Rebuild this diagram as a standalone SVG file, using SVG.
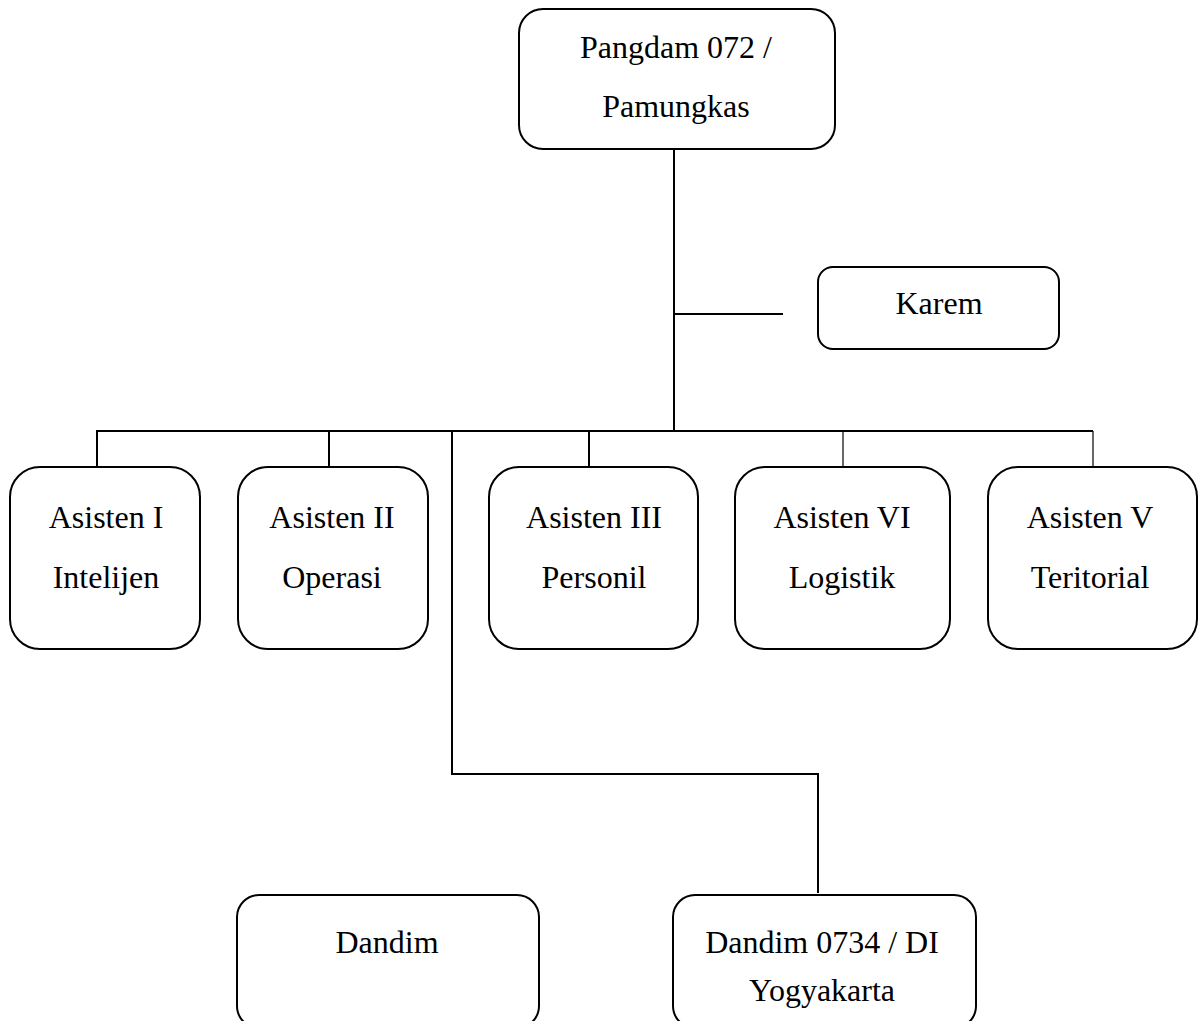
<svg xmlns="http://www.w3.org/2000/svg" width="1199" height="1021" viewBox="0 0 1199 1021">
<style>
.box{fill:#fff;stroke:#000;stroke-width:2}
.t{font-family:"Liberation Serif","Times New Roman",serif;font-size:32px;fill:#000;text-anchor:middle}
.c{fill:none;stroke:#000;stroke-width:2}
.thin{fill:none;stroke:#000;stroke-width:1.2}
</style>
<rect width="1199" height="1021" fill="#fff"/>
<g id="connectors">
<path class="c" d="M674 149V431"/>
<path class="c" d="M674 314H783"/>
<path class="c" d="M97 466V431H1093"/>
<path class="c" d="M329 431V466"/>
<path class="c" d="M589 431V466"/>
<path class="thin" d="M843 431V466"/>
<path class="thin" d="M1093 431V466"/>
<path class="c" d="M452 431V774H818V893"/>
</g>
<g id="pangdam">
<rect class="box" x="519" y="9" width="316" height="140" rx="24"/>
<text class="t" x="676" y="58">Pangdam 072 /</text>
<text class="t" x="676" y="117">Pamungkas</text>
</g>
<g id="karem">
<rect class="box" x="818" y="267" width="241" height="82" rx="15"/>
<text class="t" x="939" y="314">Karem</text>
</g>
<g id="asisten1">
<rect class="box" x="10" y="467" width="190" height="182" rx="30"/>
<text class="t" x="106" y="528">Asisten I</text>
<text class="t" x="106" y="588">Intelijen</text>
</g>
<g id="asisten2">
<rect class="box" x="238" y="467" width="190" height="182" rx="30"/>
<text class="t" x="332" y="528">Asisten II</text>
<text class="t" x="332" y="588">Operasi</text>
</g>
<g id="asisten3">
<rect class="box" x="489" y="467" width="209" height="182" rx="30"/>
<text class="t" x="594" y="528">Asisten III</text>
<text class="t" x="594" y="588">Personil</text>
</g>
<g id="asisten6">
<rect class="box" x="735" y="467" width="215" height="182" rx="30"/>
<text class="t" x="842" y="528">Asisten VI</text>
<text class="t" x="842" y="588">Logistik</text>
</g>
<g id="asisten5">
<rect class="box" x="988" y="467" width="209" height="182" rx="30"/>
<text class="t" x="1090" y="528">Asisten V</text>
<text class="t" x="1090" y="588">Teritorial</text>
</g>
<g id="dandim">
<rect class="box" x="237" y="895" width="302" height="133" rx="22"/>
<text class="t" x="387" y="953">Dandim</text>
</g>
<g id="dandim0734">
<rect class="box" x="673" y="895" width="303" height="133" rx="22"/>
<text class="t" x="822" y="953">Dandim 0734 / DI</text>
<text class="t" x="822" y="1001">Yogyakarta</text>
</g>
</svg>
